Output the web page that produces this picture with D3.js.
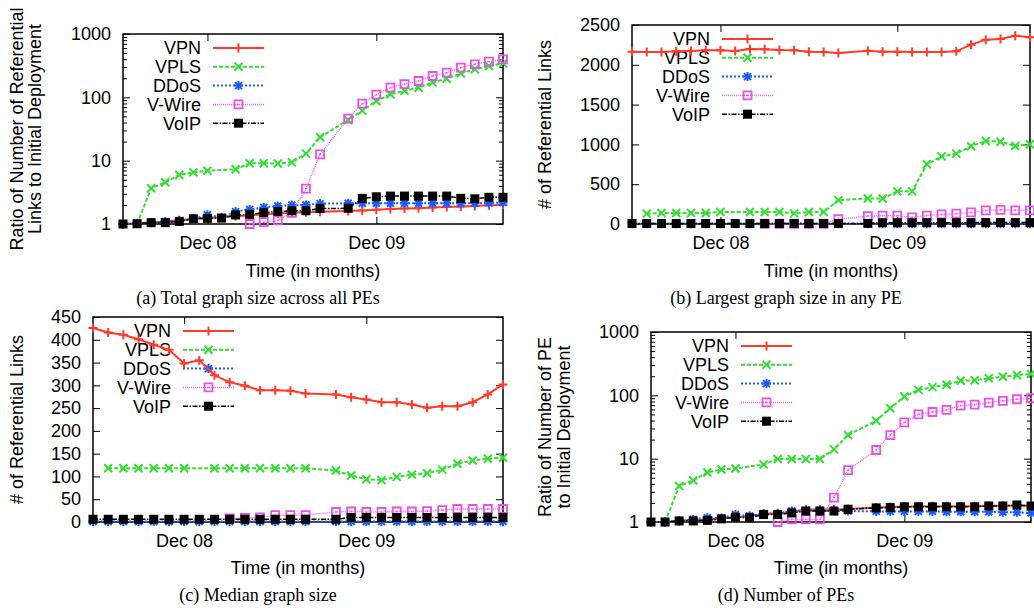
<!DOCTYPE html>
<html>
<head>
<meta charset="utf-8">
<title></title>
<script src="https://d3js.org/d3.v7.min.js"></script>
<style type="text/css">
  body{margin:0;background:#fff;}
  svg text{font-family:"Liberation Sans",Arial,Helvetica,sans-serif;fill:#000;}
  svg .caption{font-family:"Liberation Serif","Times New Roman",serif;}
</style>
</head>
<body>
<div id='graph-container'></div>
<script type="text/javascript">

// one entry per month, Jun 08 .. Sep 10
var months = ['Jun 08','Jul 08','Aug 08','Sep 08','Oct 08','Nov 08','Dec 08',
  'Jan 09','Feb 09','Mar 09','Apr 09','May 09','Jun 09','Jul 09','Aug 09','Sep 09','Oct 09','Nov 09','Dec 09',
  'Jan 10','Feb 10','Mar 10','Apr 10','May 10','Jun 10','Jul 10','Aug 10','Sep 10']
var monthTicks = ['Dec 08','Dec 09']
var seriesNames = ['VPN','VPLS','DDoS','V-Wire','VoIP']

var logTicks = [1,10,100,1000]
var largestTicks = [0,500,1000,1500,2000,2500]
var medianTicks = [0,50,100,150,200,250,300,350,400,450]

// (a) total graph size, ratio to initial deployment
var totalVPN = [1,1.03,1.06,1.1,1.15,1.2,1.25,1.28,1.33,1.38,1.42,1.47,1.5,1.53,1.56,null,1.6,1.64,1.68,1.72,1.75,1.78,1.82,1.85,1.89,1.93,1.97,2.02]
var totalVPLS = [null,1,3.66,4.55,5.94,6.54,6.95,null,7.3,9.1,9.1,9.0,9.4,12.9,23.4,null,43.9,61.6,87.5,112,127,142,172,197,239,277,312,344]
var totalDDoS = [1,1.02,1.05,1.09,1.12,1.2,1.4,1.26,1.57,1.7,1.83,1.92,2.0,2.0,2.1,null,2.12,2.12,2.12,2.12,2.12,2.12,2.12,2.12,2.12,2.12,2.15,2.18]
var totalVWire = [null,null,null,null,null,null,null,null,null,1.0,1.07,1.14,1.5,3.61,12.6,null,46,79.4,110,142,162,181,217,245,294,332,366,398]
var totalVoIP = [1,1.01,1.05,1.05,1.1,1.21,1.23,1.24,1.39,1.42,1.51,1.58,1.62,1.62,1.75,null,1.77,2.54,2.69,2.76,2.76,2.76,2.76,2.76,2.54,2.5,2.64,2.64]

// (b) largest graph size in any PE
var largestVPN = [2165,2161,2161,2169,2174,2182,2182,2174,2199,2195,2186,2182,2165,2161,2148,null,2178,2165,2165,2161,2161,2161,2169,2253,2316,2324,2366,2345]
var largestVPLS = [null,130,138,138,138,138,150,null,150,150,150,134,150,150,300,null,320,320,410,410,750,850,884,976,1043,1034,980,1001]
var largestDDoS = [2,2,2,2,2,2,2,2,2,2,2,2,2,2,2,null,3,3,3,3,3,3,3,3,3,3,3,3]
var largestVWire = [null,null,null,null,null,null,null,null,null,3,3,3,3,3,60,null,100,104,104,84,105,120,130,145,170,178,172,172]
var largestVoIP = [6,6,6,6,6,6,6,6,6,6,6,6,6,6,6,null,8,16,16,17,17,17,17,17,18,18,18,18]

// (c) median graph size
var medianVPN = [426,416,411,401,389,378,348,355,322,307,299,289,289,288,282,null,280,274,269,263,263,258,251,254,254,263,280,302]
var medianVPLS = [null,118,118,118,118,118,118,null,118,118,118,118,118,118,118,null,113,102,94,92,99,104,107,115,128,135,139,141]
var medianDDoS = [1,1,1,1,1,1,1,1,1,1,1,1,1,1,1,null,1,1,1,1,1,1,1,1,1,1,1,1]
var medianVWire = [null,null,null,null,null,null,null,null,null,8,9,10,15,15,15,null,22,23,22,22,23,23,24,26,28.5,28.5,28.5,28.5]
var medianVoIP = [6,6,6,6,6,6,6,6,6,6,6,6,6,6,6,null,6,10,10,10,10,10,10,10,10,10,10,10]

// (d) number of PEs, ratio to initial deployment
var peVPN = [1,1,1.05,1.08,1.1,1.15,1.2,1.22,1.35,1.38,1.45,1.57,1.57,1.57,1.6,null,1.7,1.72,1.76,1.76,1.78,1.78,1.78,1.78,1.8,1.8,1.8,1.8]
var peVPLS = [null,1,3.72,4.52,6.05,6.74,7.0,null,8.1,9.9,9.9,9.9,9.9,14,23.6,null,39.8,62.5,95.7,122,134.6,146.6,169.5,173,186,197,208,218]
var peDDoS = [1,1,1.04,1.1,1.17,1.15,1.31,1.25,1.35,1.35,1.49,1.52,1.52,1.5,1.49,null,1.47,1.47,1.47,1.47,1.47,1.45,1.45,1.45,1.45,1.43,1.42,1.39]
var peVWire = [null,null,null,null,null,null,null,null,null,1.0,1.1,1.1,1.1,2.43,6.59,null,13.7,23.6,37.5,50.2,54.6,58.9,68.8,71.4,76.9,81.9,86.8,89.9]
var peVoIP = [1,1,1.04,1.04,1.06,1.12,1.19,1.17,1.31,1.31,1.39,1.49,1.49,1.49,1.59,null,1.67,1.69,1.74,1.74,1.74,1.74,1.74,1.74,1.79,1.79,1.86,1.79]

var styles = [
  {color:'#ff3a28', width:2, dash:null, marker:'plus'},
  {color:'#33dd33', width:2, dash:'4,2', marker:'cross'},
  {color:'#1a5cff', width:2, dash:'2,2', marker:'star'},
  {color:'#ee66ee', width:1.5, dash:'1,1', marker:'box'},
  {color:'#000000', width:1.5, dash:'5,1.5,1.5,1.5', marker:'fbox'}
]

var panels = [
  {left:123, right:503, top:34, bottom:224, log:true, ticks:logTicks,
   ylabel:['Ratio of Number of Referential','Links to Initial Deployment'], ylabelX:[17,35],
   caption:'(a) Total graph size across all PEs', captionX:258, captionY:298, titleY:271,
   series:[totalVPN,totalVPLS,totalDDoS,totalVWire,totalVoIP]},
  {left:632, right:1030, top:25, bottom:224, log:false, ticks:largestTicks,
   ylabel:['# of Referential Links'], ylabelX:[545],
   caption:'(b) Largest graph size in any PE', captionX:786, captionY:298, titleY:271,
   series:[largestVPN,largestVPLS,largestDDoS,largestVWire,largestVoIP]},
  {left:93, right:503, top:317, bottom:522, log:false, ticks:medianTicks,
   ylabel:['# of Referential Links'], ylabelX:[17],
   caption:'(c) Median graph size', captionX:258, captionY:595, titleY:568,
   series:[medianVPN,medianVPLS,medianDDoS,medianVWire,medianVoIP]},
  {left:651, right:1031, top:332, bottom:522, log:true, ticks:logTicks,
   ylabel:['Ratio of Number of PE','to Initial Deployment'], ylabelX:[545,564],
   caption:'(d) Number of PEs', captionX:786, captionY:595, titleY:568,
   series:[peVPN,peVPLS,peDDoS,peVWire,peVoIP]}
]

function markerPath(kind){
  if(kind==='plus'){return 'M-4.5,0H4.5M0,-4.5V4.5'}
  if(kind==='cross'){return 'M-4,-4L4,4M-4,4L4,-4'}
  if(kind==='star'){return 'M-4.5,0H4.5M0,-4.5V4.5M-3.5,-3.5L3.5,3.5M-3.5,3.5L3.5,-3.5'}
  if(kind==='box'){return 'M-4,-4H4V4H-4Z'}
  return 'M-4.5,-4.5H4.5V4.5H-4.5Z'
}

function drawMarker(g, st, px, py){
  var m = g.append('path')
    .attr('transform', `translate(${px},${py})`)
    .attr('d', markerPath(st.marker))
  if(st.marker==='fbox'){
    m.attr('fill', st.color).attr('stroke','none')
  } else if(st.marker==='box'){
    m.attr('fill','none').attr('stroke', '#e850e8').attr('stroke-width', 1.8)
    g.append('rect').attr('x', px-0.8).attr('y', py-0.8).attr('width',1.6).attr('height',1.6).attr('fill', '#e850e8')
  } else {
    m.attr('fill','none').attr('stroke', st.color).attr('stroke-width', 2)
  }
}

function drawPanel(svg, p){
  var x = d3.scaleLinear().domain([0, months.length-1]).range([p.left, p.right])
  var y
  if(p.log){
    y = d3.scaleLog().domain([1,1000]).range([p.bottom, p.top])
  } else {
    y = d3.scaleLinear().domain([0, p.ticks[p.ticks.length-1]]).range([p.bottom, p.top])
  }
  var g = svg.append('g')
  var tickIdx = monthTicks.map((m)=>months.indexOf(m))

  // axes, ticks pointing into the plot
  var left = g.append('g').attr('transform', `translate(${p.left},0)`)
    .call(d3.axisLeft(y).tickValues(p.ticks).tickFormat(d3.format('d')).tickSize(-7).tickSizeOuter(0).tickPadding(12))
  g.append('g').attr('transform', `translate(${p.right},0)`)
    .call(d3.axisRight(y).tickValues(p.ticks).tickFormat('').tickSize(-7).tickSizeOuter(0))
  var bottom = g.append('g').attr('transform', `translate(0,${p.bottom})`)
    .call(d3.axisBottom(x).tickValues(tickIdx).tickFormat((i)=>months[i]).tickSize(-7).tickSizeOuter(0).tickPadding(12))
  g.append('g').attr('transform', `translate(0,${p.top})`)
    .call(d3.axisTop(x).tickValues(tickIdx).tickFormat('').tickSize(-7).tickSizeOuter(0))
  if(p.log){
    var minor = []
    for(var dec=1; dec<1000; dec*=10){
      for(var k=2; k<10; k++){ minor.push(dec*k) }
    }
    g.append('g').attr('transform', `translate(${p.left},0)`)
      .call(d3.axisLeft(y).tickValues(minor).tickFormat('').tickSize(-4).tickSizeOuter(0))
    g.append('g').attr('transform', `translate(${p.right},0)`)
      .call(d3.axisRight(y).tickValues(minor).tickFormat('').tickSize(-4).tickSizeOuter(0))
  }
  g.selectAll('.domain').remove()
  g.selectAll('.tick line').attr('stroke','#000').attr('stroke-width',1)
  left.selectAll('text').attr('font-size',18).attr('font-family','"Liberation Sans",Arial,sans-serif')
  bottom.selectAll('text').attr('font-size',18).attr('font-family','"Liberation Sans",Arial,sans-serif')

  g.append('rect')
    .attr('x', p.left).attr('y', p.top)
    .attr('width', p.right-p.left).attr('height', p.bottom-p.top)
    .attr('fill','none').attr('stroke','#000').attr('stroke-width',1.5)

  // legend
  var lx = p.left + 78
  for(var s=0; s<seriesNames.length; s++){
    var st = styles[s]
    var ly = p.top + 14 + s*18.8
    g.append('text').attr('x', lx).attr('y', ly).attr('dy','0.36em')
      .attr('text-anchor','end').attr('font-size',18).text(seriesNames[s])
    g.append('line').attr('x1', lx+12).attr('x2', lx+63).attr('y1', ly).attr('y2', ly)
      .attr('stroke', st.color).attr('stroke-width', st.width)
      .attr('stroke-dasharray', st.dash)
    drawMarker(g, st, lx+37.5, ly)
  }

  // series: lines then points, in plot order
  var line = d3.line().x((d)=>x(d[0])).y((d)=>y(d[1]))
  p.series.forEach((values, s)=>{
    var st = styles[s]
    var pts = values.map((v,i)=>[i,v]).filter((d)=>d[1]!==null)
    g.append('path').datum(pts)
      .attr('d', line)
      .attr('fill','none')
      .attr('stroke', st.color)
      .attr('stroke-width', st.width)
      .attr('stroke-dasharray', st.dash)
    pts.forEach((d)=>{ drawMarker(g, st, x(d[0]), y(d[1])) })
  })

  // axis titles and caption
  var cy = (p.top+p.bottom)/2
  p.ylabel.forEach((txt, k)=>{
    g.append('text')
      .attr('transform', `translate(${p.ylabelX[k]},${cy}) rotate(-90)`)
      .attr('dy','0.35em').attr('text-anchor','middle').attr('font-size',18)
      .text(txt)
  })
  g.append('text')
    .attr('x', (p.left+p.right)/2).attr('y', p.titleY).attr('dy','0.35em')
    .attr('text-anchor','middle').attr('font-size',18)
    .text('Time (in months)')
  g.append('text').attr('class','caption')
    .attr('x', p.captionX).attr('y', p.captionY).attr('dy','0.35em')
    .attr('text-anchor','middle').attr('font-size',18)
    .text(p.caption)
}

var width = 1034
var height = 608
var svg = d3.select('#graph-container').append('svg')
  .attr('width', width)
  .attr('height', height)

panels.forEach((p)=>drawPanel(svg, p))

</script>
</body>
</html>
